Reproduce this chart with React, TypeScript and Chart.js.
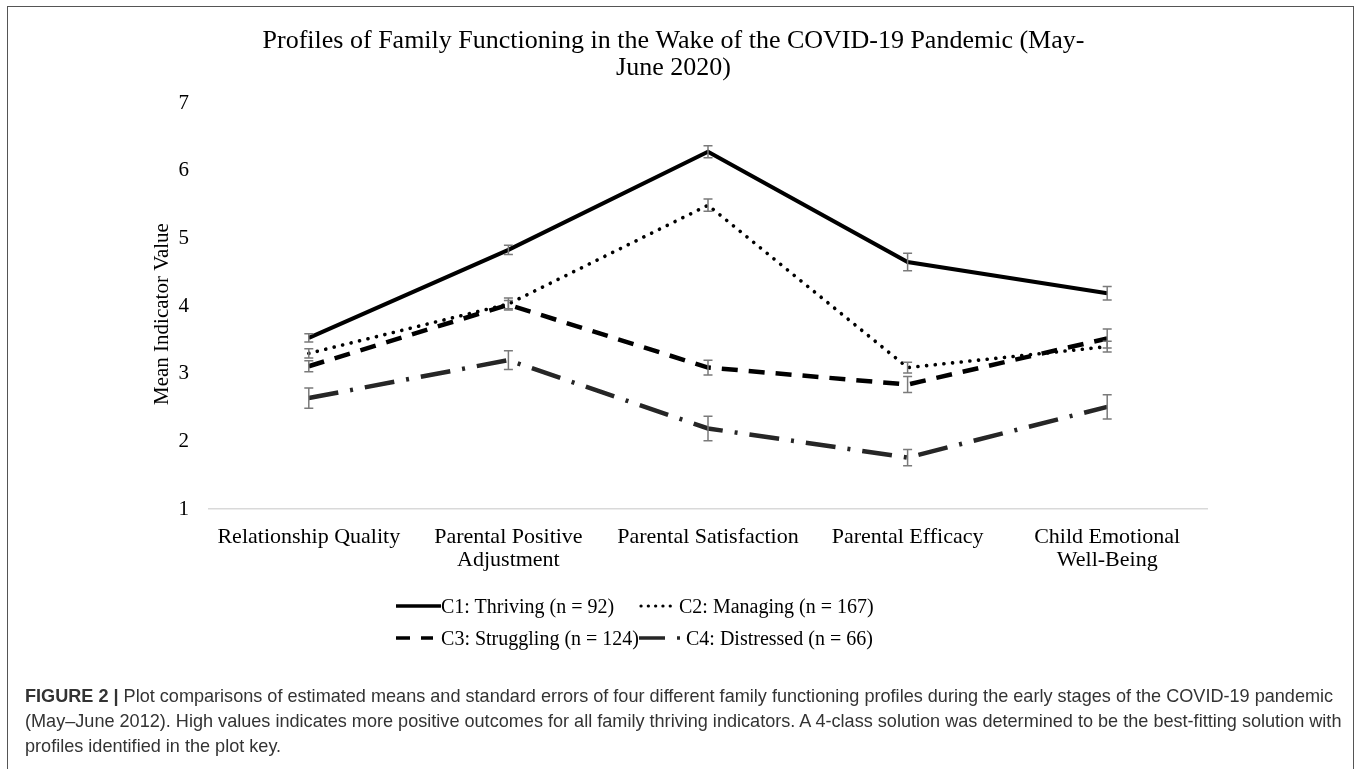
import React, { useEffect, useRef } from "react";
import { Chart, registerables } from "chart.js";

Chart.register(...registerables);

// ---------- data ----------
const categories: string[][] = [
  ["Relationship Quality"],
  ["Parental Positive", "Adjustment"],
  ["Parental Satisfaction"],
  ["Parental Efficacy"],
  ["Child Emotional", "Well-Being"],
];
const seriesNames = [
  "C1: Thriving (n = 92)",
  "C2: Managing (n = 167)",
  "C3: Struggling (n = 124)",
  "C4: Distressed (n = 66)",
];
const c1Means = [3.53, 4.83, 6.28, 4.65, 4.19];
const c1SE = [0.06, 0.07, 0.09, 0.13, 0.1];
const c2Means = [3.3, 4.03, 5.49, 3.09, 3.4];
const c2SE = [0.07, 0.09, 0.09, 0.08, 0.08];
const c3Means = [3.11, 4.02, 3.09, 2.84, 3.52];
const c3SE = [0.08, 0.06, 0.11, 0.12, 0.14];
const c4Means = [2.64, 3.2, 2.19, 1.76, 2.51];
const c4SE = [0.15, 0.14, 0.18, 0.12, 0.18];
const yMin = 1;
const yMax = 7;
const yStep = 1;
const chartTitle = [
  "Profiles of Family Functioning in the Wake of the COVID-19 Pandemic (May-",
  "June 2020)",
];
const yAxisTitle = "Mean Indicator Value";

const allMeans = [c1Means, c2Means, c3Means, c4Means];
const allSE = [c1SE, c2SE, c3SE, c4SE];

// ---------- styles ----------
const SERIF = "'Liberation Serif', 'Times New Roman', serif";
const SANS = "'Liberation Sans', Arial, Helvetica, sans-serif";
const lineStyles = [
  { color: "#000000", width: 4, dash: [] as number[], cap: "butt" },
  { color: "#000000", width: 3.6, dash: [0.1, 8.6], cap: "round" },
  { color: "#000000", width: 4.5, dash: [16, 11], cap: "butt" },
  { color: "#262626", width: 4.5, dash: [30, 12, 3, 12], cap: "butt" },
];

const errorBarPlugin = {
  id: "errorBars",
  afterDatasetsDraw(chart: any) {
    const ctx = chart.ctx;
    const xs = chart.scales.x;
    const ys = chart.scales.y;
    ctx.save();
    ctx.strokeStyle = "#7a7a7a";
    ctx.lineWidth = 1.5;
    chart.data.datasets.forEach((ds: any, i: number) => {
      const se = allSE[i];
      ds.data.forEach((v: number, j: number) => {
        const px = xs.getPixelForValue(j);
        const top = ys.getPixelForValue(v + se[j]);
        const bot = ys.getPixelForValue(v - se[j]);
        ctx.beginPath();
        ctx.moveTo(px, top);
        ctx.lineTo(px, bot);
        ctx.moveTo(px - 4.5, top);
        ctx.lineTo(px + 4.5, top);
        ctx.moveTo(px - 4.5, bot);
        ctx.lineTo(px + 4.5, bot);
        ctx.stroke();
      });
    });
    ctx.restore();
  },
};

// y-axis title, drawn a little below the plot's vertical centre as in the original
const yTitlePlugin = {
  id: "yTitle",
  afterDraw(chart: any) {
    const ctx = chart.ctx;
    const ys = chart.scales.y;
    const ca = chart.chartArea;
    ctx.save();
    ctx.font = `21px ${SERIF}`;
    ctx.fillStyle = "#000";
    ctx.textAlign = "center";
    ctx.textBaseline = "middle";
    ctx.translate(ys.left + 22, (ca.top + ca.bottom) / 2 + 8);
    ctx.rotate(-Math.PI / 2);
    ctx.fillText(yAxisTitle, 0, 0);
    ctx.restore();
  },
};

function LegendSample({ idx, w }: { idx: number; w: number }) {
  const s = lineStyles[idx];
  const dashes: Record<number, string> = {
    0: "none",
    1: "0.1 7.2",
    2: "14 11",
    3: "26 12 3 12",
  };
  return (
    <svg width={w} height={10} style={{ display: "block" }}>
      <line
        x1={idx === 1 ? 2 : 0}
        y1={5}
        x2={w}
        y2={5}
        stroke={s.color}
        strokeWidth={idx === 1 ? 3.2 : 3.6}
        strokeDasharray={dashes[idx]}
        strokeLinecap={idx === 1 ? "round" : "butt"}
      />
    </svg>
  );
}

export default function App() {
  const ref = useRef<HTMLCanvasElement | null>(null);

  useEffect(() => {
    if (!ref.current) return;
    const chart = new Chart(ref.current, {
      type: "line",
      data: {
        labels: categories,
        datasets: allMeans.map((m, i) => ({
          label: seriesNames[i],
          data: m,
          borderColor: lineStyles[i].color,
          backgroundColor: lineStyles[i].color,
          borderWidth: lineStyles[i].width,
          borderDash: lineStyles[i].dash,
          borderCapStyle: lineStyles[i].cap as any,
          borderJoinStyle: "miter",
          pointRadius: 0,
          tension: 0,
          fill: false,
        })),
      },
      options: {
        responsive: false,
        animation: false,
        devicePixelRatio: 1,
        layout: { padding: { left: 140, right: 150, top: 0, bottom: 0 } },
        plugins: {
          legend: { display: false },
          tooltip: { enabled: false },
          title: {
            display: true,
            text: chartTitle,
            color: "#000",
            font: { family: SERIF, size: 26, weight: "normal", lineHeight: 1.02 },
            padding: { top: 28, bottom: 22 },
          },
        },
        scales: {
          x: {
            type: "category",
            offset: true,
            grid: { display: false, drawTicks: false },
            border: { display: true, color: "#d9d9d9", width: 1.5 },
            ticks: {
              color: "#000",
              font: { family: SERIF, size: 22, lineHeight: 1.05 },
              padding: 17,
              maxRotation: 0,
              minRotation: 0,
              autoSkip: false,
            },
            afterFit: (s: any) => {
              s.height = 81;
            },
          },
          y: {
            min: yMin,
            max: yMax,
            grid: { display: false, drawTicks: false },
            border: { display: false },
            ticks: {
              stepSize: yStep,
              color: "#000",
              font: { family: SERIF, size: 21 },
              padding: 20,
            },
            title: { display: false },
            afterFit: (s: any) => {
              s.width = 69;
            },
          },
        },
      },
      plugins: [errorBarPlugin, yTitlePlugin],
    });
    return () => chart.destroy();
  }, []);

  const legendRow: React.CSSProperties = {
    display: "grid",
    gridTemplateColumns: "243px auto",
    height: 32,
    alignItems: "center",
  };
  const item: React.CSSProperties = { display: "flex", alignItems: "center", whiteSpace: "nowrap" };

  return (
    <div
      style={{
        position: "absolute",
        left: 0,
        top: 0,
        width: 1357,
        height: 769,
        overflow: "hidden",
        background: "#fff",
      }}
    >
      <canvas ref={ref} width={1357} height={590} style={{ position: "absolute", left: 0, top: 0 }} />
      <div
        style={{
          position: "absolute",
          left: 7,
          top: 6,
          width: 1345,
          height: 900,
          border: "1.5px solid #555",
          pointerEvents: "none",
        }}
      />
      <div
        style={{
          position: "absolute",
          left: 396,
          top: 590,
          fontFamily: SERIF,
          fontSize: 20,
          color: "#000",
        }}
      >
        <div style={legendRow}>
          <div style={item}>
            <LegendSample idx={0} w={45} />
            <span>{seriesNames[0]}</span>
          </div>
          <div style={item}>
            <LegendSample idx={1} w={38} />
            <span style={{ marginLeft: 2 }}>{seriesNames[1]}</span>
          </div>
        </div>
        <div style={legendRow}>
          <div style={item}>
            <LegendSample idx={2} w={38} />
            <span style={{ marginLeft: 8 }}>{seriesNames[2]}</span>
          </div>
          <div style={item}>
            <LegendSample idx={3} w={46} />
            <span style={{ marginLeft: 1 }}>{seriesNames[3]}</span>
          </div>
        </div>
      </div>
      <div
        style={{
          position: "absolute",
          left: 25,
          top: 684,
          fontFamily: SANS,
          fontSize: 18.1,
          lineHeight: "25px",
          color: "#333",
          whiteSpace: "nowrap",
        }}
      >
        <div>
          <b>FIGURE 2 | </b>Plot comparisons of estimated means and standard errors of four different family
          functioning profiles during the early stages of the COVID-19 pandemic
        </div>
        <div>
          (May–June 2012). High values indicates more positive outcomes for all family thriving indicators. A
          4-class solution was determined to be the best-fitting solution with
        </div>
        <div>profiles identified in the plot key.</div>
      </div>
    </div>
  );
}
